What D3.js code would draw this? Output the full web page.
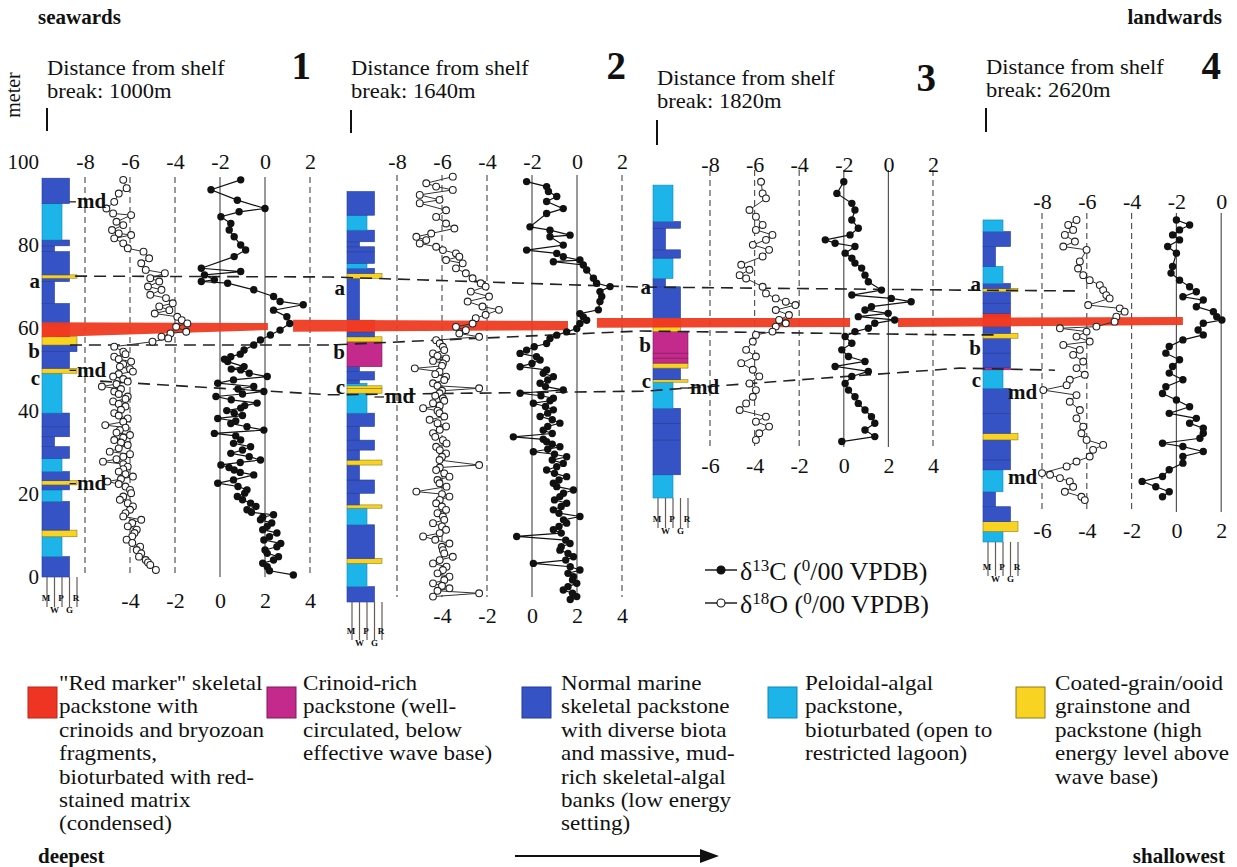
<!DOCTYPE html>
<html><head><meta charset="utf-8">
<script src="https://cdn.jsdelivr.net/npm/d3@7"></script>
<style>
body{margin:0;background:#fff}
svg{display:block}
text{font-family:"Liberation Serif","Times New Roman",serif;fill:#111}
</style></head>
<body><svg id="c" width="1237" height="867" font-family="Liberation Serif, serif"></svg>
<script>
// ---------------- DATA ----------------
const sectionNumbers = ["1","2","3","4"];
const distanceLabels = ["break: 1000m","break: 1640m","break: 1820m","break: 2620m"];
const topTicks = [[-8,-6,-4,-2,0,2],[-8,-6,-4,-2,0,2],[-8,-6,-4,-2,0,2],[-8,-6,-4,-2,0]];
const bottomTicks = [[-4,-2,0,2,4],[-4,-2,0,2,4],[-6,-4,-2,0,2,4],[-6,-4,-2,0,2]];
const meterTicks = [0,20,40,60,80,100];
const textures = ["M","W","P","G","R"];

// [meter, value] ; d18O read on the top scale, d13C read on the bottom scale
const o18_1 = [[95.7,-6.3],[93.7,-6.15],[92.4,-6.5],[90.4,-6.7],[88.8,-7.05],[87.6,-6.75],[87.2,-5.95],[85.6,-6.6],[84.8,-6.3],[83.6,-6.8],[82.8,-6.5],[82.4,-5.95],[81.6,-6.7],[80.4,-6.3],[79.2,-6.1],[78.4,-5.4],[76.8,-5.15],[75.6,-5.5],[74.0,-5.3],[73.2,-4.45],[72.0,-5.1],[71.2,-4.7],[70.0,-5.2],[69.2,-4.6],[68.0,-5.1],[67.2,-4.4],[65.95,-4.1],[65.2,-4.7],[64.3,-4.25],[63.5,-4.9],[62.7,-3.9],[61.9,-3.7],[61.1,-3.45],[60.3,-3.95],[59.1,-3.5],[58.7,-4.2],[57.9,-4.6],[57.5,-4.3],[56.7,-5.0],[55.5,-6.7],[54.3,-6.3],[53.1,-6.7],[51.9,-5.95],[50.7,-6.45],[49.5,-5.87],[48.3,-6.75],[47.1,-6.1],[45.9,-7.25],[44.7,-6.7],[43.5,-6.1],[42.3,-6.75],[41.1,-6.2],[39.5,-6.7],[38.2,-6.1],[36.6,-7.1],[35.4,-6.45],[34.2,-6.0],[33.0,-6.7],[31.8,-6.1],[30.2,-6.9],[29.0,-6.3],[27.8,-7.2],[26.6,-6.1],[25.4,-6.5],[24.2,-5.87],[23.0,-7.0],[21.8,-6.2],[20.2,-5.95],[18.6,-6.45],[17.0,-5.87],[15.4,-6.2],[13.8,-5.5],[12.2,-6.1],[10.6,-5.8],[9.0,-6.15],[7.3,-5.55],[5.7,-5.5],[4.1,-5.3],[2.9,-5.1],[1.7,-4.85],
[53.7,-6.2],[52.5,-6.5],[51.3,-6.3],[50.1,-6.0],[48.9,-6.5],[47.7,-6.3],[46.5,-6.6],[45.3,-6.4],[44.1,-6.5],[42.9,-6.2],[41.7,-6.5],[40.3,-6.4],[38.9,-6.5],[37.4,-6.3],[36.0,-6.2],[34.8,-6.6],[33.6,-6.3],[32.4,-6.4],[31.0,-6.5],[29.6,-6.0],[28.4,-6.6],[27.2,-6.3],[26.0,-6.3],[24.8,-6.2],[23.6,-6.4],[22.4,-6.5],[21.0,-6.0],[19.4,-6.3],[17.8,-6.1],[16.2,-6.0],[14.6,-6.3],[13.0,-5.9],[11.4,-5.7],[9.8,-5.9],[8.2,-5.9],[6.5,-5.7],[4.9,-5.6],[3.5,-5.2]];
const c13_1 = [[95.7,0.92],[93.3,-0.4],[90.8,0.77],[88.8,2.0],[88.0,0.85],[86.8,0.04],[85.2,0.48],[83.6,0.41],[82.0,0.63],[80.0,0.92],[78.8,1.14],[77.2,0.63],[74.4,-0.83],[73.6,0.92],[72.8,-0.69],[71.6,-0.25],[71.2,-0.83],[70.8,0.34],[69.2,1.5],[67.6,2.38],[66.4,2.67],[65.6,3.7],[64.3,2.38],[62.7,2.97],[61.1,3.1],[59.5,2.67],[58.3,2.24],[57.1,1.8],[55.9,1.5],[54.7,1.07],[53.1,0.48],[51.9,0.34],[50.7,1.07],[49.9,0.92],[48.3,2.1],[46.7,-0.1],[45.9,1.5],[44.7,1.95],[43.5,-0.18],[41.9,1.65],[40.7,0.92],[39.5,0.63],[38.2,-0.1],[37.0,0.48],[35.4,1.95],[34.6,-0.25],[33.0,0.92],[31.4,1.36],[29.8,0.48],[28.2,1.8],[27.0,0.04],[25.8,0.63],[24.6,1.5],[22.6,-0.1],[21.0,1.2],[19.4,0.77],[17.8,1.36],[16.2,1.2],[15.0,2.38],[13.8,1.8],[12.2,2.1],[10.6,2.53],[8.9,1.95],[7.3,2.53],[5.7,2.1],[4.1,2.38],[2.5,2.1],[0.5,3.26],
[53.7,0.9],[52.5,0.2],[50.1,0.5],[49.1,1.3],[47.5,0.6],[45.3,0.8],[44.1,1.0],[42.7,0.5],[41.3,1.1],[40.1,0.3],[38.9,1.0],[37.6,0.7],[36.2,1.2],[34.0,0.7],[32.2,0.6],[30.6,1.0],[29.0,1.3],[27.6,0.9],[26.4,0.4],[25.2,0.9],[23.4,0.6],[21.8,0.8],[20.2,1.1],[18.6,1.0],[17.0,1.6],[15.6,1.4],[14.4,1.9],[13.0,2.3],[11.4,1.9],[9.7,2.2],[8.1,2.7],[6.5,2.0],[4.9,2.6],[3.3,1.9],[1.5,2.2]];

const o18_2 = [[102.5,-5.52],[100.9,-6.7],[100.1,-6.26],[99.3,-5.52],[98.1,-6.99],[96.9,-6.11],[96.1,-6.99],[94.4,-5.82],[92.8,-6.26],[91.2,-5.82],[90.0,-5.45],[88.8,-6.48],[88.0,-7.14],[87.2,-6.7],[86.4,-6.99],[85.6,-6.26],[84.8,-5.96],[84.0,-5.38],[83.2,-5.23],[82.4,-5.82],[81.6,-5.08],[80.4,-5.38],[79.2,-4.94],[78.0,-4.64],[76.8,-4.28],[76.0,-4.06],[74.8,-4.72],[73.6,-3.91],[72.4,-4.86],[71.2,-4.2],[70.4,-3.47],[69.2,-4.06],[68.4,-4.5],[67.1,-4.64],[66.3,-5.38],[65.5,-4.94],[64.7,-5.23],[63.9,-4.35],[63.1,-6.26],[61.5,-5.96],[59.9,-6.4],[58.7,-5.82],[57.5,-5.96],[56.3,-7.21],[55.5,-6.11],[54.3,-5.82],[52.7,-6.4],[51.5,-4.35],[50.3,-6.11],[49.1,-5.96],[47.9,-6.4],[46.7,-6.84],[45.5,-6.11],[43.9,-6.55],[42.3,-5.82],[40.7,-6.4],[39.0,-5.96],[37.4,-6.26],[35.8,-5.82],[34.2,-6.11],[33.0,-4.35],[31.8,-6.26],[30.2,-5.67],[28.6,-6.11],[26.6,-7.14],[25.4,-5.67],[23.8,-6.26],[22.2,-5.82],[20.6,-5.96],[19.0,-6.4],[17.4,-5.82],[15.8,-6.84],[14.1,-5.67],[12.5,-5.96],[10.9,-5.52],[9.3,-6.4],[7.7,-5.96],[6.1,-5.67],[4.5,-6.4],[3.3,-5.67],[2.1,-4.35],[1.3,-6.4],
[62.3,-6.1],[60.7,-5.9],[59.3,-6.2],[58.1,-6.4],[56.9,-6.0],[54.9,-6.3],[53.5,-5.9],[52.1,-6.2],[50.9,-6.0],[49.7,-6.3],[48.5,-5.9],[47.3,-6.1],[46.1,-6.2],[44.7,-5.9],[43.1,-6.2],[41.5,-6.1],[39.8,-6.3],[38.2,-5.8],[36.6,-6.1],[35.0,-6.0],[32.4,-6.1],[31.0,-5.9],[29.4,-6.2],[27.8,-5.8],[26.0,-6.0],[24.6,-6.1],[23.0,-6.0],[21.4,-6.2],[19.8,-5.9],[18.2,-6.0],[16.6,-6.1],[15.0,-6.3],[13.3,-6.0],[11.7,-5.9],[10.1,-6.1],[8.5,-5.8],[6.9,-6.2],[5.3,-5.9],[3.9,-6.0],[2.7,-6.2]];
const c13_2 = [[101.3,-0.24],[100.1,0.65],[98.9,0.73],[97.7,1.1],[96.5,0.65],[94.8,1.39],[93.6,0.65],[90.4,-0.09],[89.6,0.8],[88.4,1.69],[88.0,0.8],[86.0,1.39],[84.8,-0.24],[84.0,1.1],[83.2,1.39],[82.4,2.13],[82.0,0.95],[81.2,2.28],[80.0,2.43],[78.0,2.73],[76.8,2.87],[76.0,3.47],[74.8,3.02],[73.6,3.1],[72.4,3.02],[70.4,2.95],[69.5,2.13],[68.7,2.28],[67.9,2.43],[67.1,2.13],[65.9,1.99],[65.1,1.54],[64.3,1.1],[63.5,0.8],[62.3,0.65],[60.7,-0.24],[59.9,-0.53],[58.3,0.36],[56.7,-0.53],[55.9,0.65],[54.3,0.95],[52.7,0.36],[51.1,1.39],[50.3,-0.53],[49.1,0.95],[47.9,0.06],[46.3,0.95],[44.7,0.36],[43.1,1.24],[41.4,0.5],[39.8,-0.83],[38.6,0.65],[37.4,1.24],[36.2,0.06],[35.0,1.54],[33.4,1.39],[31.8,0.65],[30.2,1.54],[28.6,0.95],[27.0,1.84],[25.4,1.24],[23.8,1.54],[22.2,0.95],[20.6,2.13],[19.0,1.54],[17.4,0.95],[15.8,-0.68],[14.1,1.69],[12.5,1.24],[10.9,1.84],[9.3,0.06],[7.7,2.13],[6.1,1.84],[4.5,1.99],[2.9,1.39],[1.3,1.99],
[61.5,0.1],[59.1,0.2],[57.5,0.0],[55.1,0.5],[53.5,0.7],[51.9,0.6],[49.7,0.4],[48.5,0.8],[47.1,0.6],[45.5,0.7],[43.9,0.9],[42.3,0.7],[40.6,0.9],[39.2,0.5],[38.0,0.9],[36.8,0.7],[35.6,1.0],[34.2,0.9],[32.6,1.1],[31.0,1.0],[29.4,1.2],[27.8,1.1],[26.2,1.4],[24.6,1.0],[23.0,1.3],[21.4,1.2],[19.8,1.4],[18.2,1.2],[16.6,1.3],[14.9,1.5],[13.3,1.3],[11.7,1.6],[10.1,1.5],[8.5,1.7],[6.9,1.6],[5.3,1.8],[3.7,1.6],[2.1,1.8],[0.6,1.7]];

const o18_3 = [[76.2,-5.71],[73.4,-5.64],[72.2,-5.49],[69.4,-6.23],[67.8,-5.94],[65.8,-5.64],[64.6,-5.94],[63.4,-5.2],[62.2,-5.49],[61.0,-6.08],[59.8,-5.35],[58.2,-5.64],[56.2,-6.6],[55.0,-6.23],[53.7,-6.67],[52.9,-6.38],[50.9,-5.64],[49.3,-5.49],[48.1,-5.05],[47.3,-4.6],[46.5,-4.17],[45.3,-5.05],[44.1,-4.46],[42.9,-4.9],[42.1,-4.6],[41.3,-5.05],[40.1,-5.2],[39.3,-5.94],[37.7,-6.08],[35.7,-6.38],[34.1,-5.94],[32.5,-6.6],[30.9,-6.08],[29.3,-5.79],[27.6,-6.23],[26.0,-5.94],[24.4,-6.08],[22.8,-6.38],[21.2,-6.67],[19.6,-5.49],[18.4,-5.94],[17.2,-5.35],[15.6,-5.79],[14.0,-5.94]];
const c13_3 = [[76.2,0.0],[73.4,-0.31],[71.0,0.36],[69.4,0.5],[67.0,0.36],[65.0,0.65],[63.4,0.28],[62.2,-0.83],[61.4,-0.39],[60.6,0.5],[59.0,0.06],[57.8,0.36],[56.6,0.5],[55.4,0.8],[53.7,0.95],[52.1,1.1],[50.1,1.69],[48.9,0.36],[48.1,2.13],[47.3,3.02],[46.1,1.24],[45.3,0.95],[44.5,1.99],[43.7,0.65],[42.9,2.28],[42.1,1.39],[40.9,1.1],[40.1,0.5],[38.9,0.06],[37.3,0.36],[35.7,-0.09],[34.1,0.21],[32.9,0.95],[31.7,-0.39],[30.5,1.1],[29.3,0.36],[27.6,0.06],[26.0,0.21],[24.4,0.5],[22.8,0.65],[21.2,0.95],[19.6,1.24],[18.0,1.39],[16.4,0.95],[14.8,1.39],[13.6,-0.09]];

const o18_4 = [[77.6,-6.46],[76.4,-6.83],[75.2,-6.61],[74.0,-6.98],[72.4,-6.53],[71.2,-7.05],[70.4,-6.01],[67.6,-6.31],[65.9,-6.39],[64.3,-6.16],[63.1,-5.87],[61.9,-5.42],[60.7,-5.27],[59.5,-5.13],[58.7,-4.98],[57.1,-5.94],[56.3,-4.53],[55.5,-4.31],[54.3,-4.68],[53.1,-4.76],[51.9,-5.57],[51.5,-7.2],[50.7,-6.01],[49.5,-6.46],[48.3,-5.87],[47.5,-7.05],[46.3,-6.31],[45.1,-6.61],[43.5,-6.16],[41.9,-6.46],[40.3,-6.09],[39.1,-6.76],[37.8,-6.9],[36.6,-7.94],[35.4,-6.46],[33.8,-6.76],[31.8,-6.31],[29.8,-6.46],[27.8,-6.16],[26.2,-6.24],[24.6,-6.01],[23.4,-5.27],[22.2,-5.72],[20.6,-5.87],[19.4,-6.46],[18.2,-6.9],[16.6,-8.0],[16.2,-7.64],[15.4,-7.2],[14.6,-6.76],[13.3,-6.61],[12.1,-6.98],[10.9,-6.24],[10.1,-6.09]];
const c13_4 = [[77.6,0.0],[76.4,0.59],[75.2,0.14],[74.0,-0.17],[72.8,0.14],[71.2,-0.39],[69.6,0.0],[66.4,-0.17],[64.8,-0.24],[63.1,0.14],[61.5,0.59],[60.3,0.89],[59.1,0.29],[58.3,1.2],[56.7,0.89],[55.5,1.65],[54.3,1.8],[53.5,2.03],[52.7,1.2],[51.1,0.97],[49.9,1.2],[48.7,0.29],[47.1,-0.32],[45.5,-0.47],[43.9,0.14],[42.3,-0.17],[40.7,-0.32],[39.1,0.29],[37.4,-0.47],[35.8,-0.62],[34.2,0.0],[32.6,0.59],[31.0,-0.32],[29.8,0.89],[28.6,0.59],[27.4,1.2],[26.2,1.2],[25.0,1.05],[23.8,-0.62],[23.0,0.29],[21.8,1.2],[20.6,0.29],[19.0,0.29],[17.4,-0.32],[15.8,-0.62],[14.6,-1.53],[13.3,-0.92],[12.1,-0.32],[10.9,-0.62]];

// lithology: [base m, top m, facies, texture]
const lith_1 = [[0,4.9,"N","G"],[4.9,9.7,"C","P"],[9.7,11.3,"Y","R"],[11.3,18.2,"N","G"],[18.2,21.0,"C","P"],[21.0,22.2,"N","G"],[22.2,23.2,"Y","R"],[23.2,25.4,"N","G"],[25.4,28.6,"C","P"],[28.6,31.4,"N","G"],[31.4,33.8,"N","W"],[33.8,36.2,"N","G"],[36.2,39.5,"N","G"],[39.5,49.1,"C","P"],[49.1,50.3,"Y","R"],[50.3,54.3,"N","G"],[54.3,55.9,"N","R"],[55.9,57.9,"Y","R"],[57.9,60.7,"R","G"],[60.7,65.9,"N","G"],[65.9,71.2,"N","W"],[71.2,72.0,"N","G"],[72.0,72.8,"Y","R"],[72.8,78.4,"N","G"],[78.4,79.8,"N","W"],[79.8,81.2,"N","G"],[81.2,90.0,"C","P"],[90.0,96.1,"N","G"]];
const lith_2 = [[0,3.7,"N","G"],[3.7,9.3,"C","P"],[9.3,10.5,"Y","R"],[10.5,18.6,"N","G"],[18.6,22.6,"C","P"],[22.6,23.4,"Y","R"],[23.4,26.2,"N","W"],[26.2,29.4,"N","G"],[29.4,33.0,"N","W"],[33.0,34.2,"Y","R"],[34.2,36.6,"N","W"],[36.6,39.0,"N","G"],[39.0,42.3,"N","W"],[42.3,45.5,"N","G"],[45.5,50.3,"C","P"],[50.3,51.5,"Y","R"],[51.5,52.1,"Y","R"],[52.1,52.7,"C","P"],[52.7,53.5,"N","W"],[53.5,55.5,"N","G"],[55.5,56.7,"N","W"],[56.7,62.7,"M","R"],[62.7,63.9,"Y","R"],[63.9,65.1,"N","G"],[65.1,67.9,"R","G"],[67.9,78.0,"N","W"],[78.0,79.2,"Y","R"],[79.2,80.4,"N","G"],[80.4,81.6,"C","P"],[81.6,84.4,"N","G"],[84.4,85.6,"N","G"],[85.6,86.8,"N","W"],[86.8,89.6,"N","G"],[89.6,93.2,"C","P"],[93.2,98.9,"N","G"]];
const lith_3 = [[0,5.6,"C","P"],[5.6,14.0,"N","G"],[14.0,18.0,"N","G"],[18.0,21.6,"N","G"],[21.6,27.9,"C","P"],[27.9,28.5,"Y","R"],[28.5,31.3,"N","G"],[31.3,32.5,"Y","R"],[32.5,33.7,"M","R"],[33.7,34.9,"M","R"],[34.9,40.1,"M","R"],[40.1,41.3,"Y","G"],[41.3,43.3,"R","G"],[43.3,50.9,"N","G"],[50.9,52.9,"N","W"],[52.9,57.8,"C","P"],[57.8,59.8,"N","G"],[59.8,65.0,"N","W"],[65.0,66.6,"N","G"],[66.6,75.4,"C","P"]];
const lith_4 = [[0,2.5,"C","P"],[2.5,4.9,"Y","R"],[4.9,8.5,"N","G"],[8.5,12.1,"N","W"],[12.1,17.4,"C","P"],[17.4,19.8,"N","G"],[19.8,24.6,"N","G"],[24.6,26.2,"Y","R"],[26.2,31.0,"N","G"],[31.0,37.0,"N","G"],[37.0,41.5,"C","P"],[41.5,42.0,"M","G"],[42.0,45.5,"N","G"],[45.5,49.1,"N","G"],[49.1,50.3,"Y","R"],[50.3,51.9,"N","G"],[51.9,55.1,"R","G"],[55.1,57.5,"N","G"],[57.5,60.3,"N","G"],[60.3,61.1,"Y","R"],[61.1,62.3,"N","G"],[62.3,66.4,"C","P"],[66.4,71.2,"N","W"],[71.2,74.8,"N","G"],[74.8,77.6,"C","P"]];

// correlation lines: [section, top-scale value, meter]
const corrA = [[0,-8.44,72.5],[0,2.89,72.3],[1,2.8,75.9],[2,3.2,50.1],[3,-6.5,60.5]];
const corrB = [[0,-8.67,55.9],[0,2.89,55.9],[1,2.8,65.3],[2,3.2,39.3],[3,-9.9,49.9]];
const corrC = [[0,-7.33,47.2],[0,2.89,43.9],[1,3.02,50.8],[2,3.2,31.3],[3,-7.42,41.4]];
const corrLetters = [[0,"a",71.3],[0,"b",54.3],[0,"c",48.0],[1,"a",75.7],[1,"b",60.2],[1,"c",51.8],[2,"a",50.8],[2,"b",36.9],[2,"c",28.2],[3,"a",62.2],[3,"b",46.7],[3,"c",39.0]];
// red marker bed: [section, x from, x to, top m (from,to), base m (from,to)]
const redBand = [[0,-9.91,0.13,61.4,61.2,57.8,59.5],[1,-12.62,-0.4,68.0,67.7,65.1,65.5],[2,-13.07,-1.72,43.4,43.4,41.0,41.2],[3,-14.43,-1.71,54.0,54.2,51.8,52.3]];
const mdMarks = [[0,90.4],[0,49.8],[0,22.5],[1,49.4],[2,26.5],[3,35.9],[3,15.6]];

const legendFacies = ["R","M","N","C","Y"];
const legendTexts = [
 ["\"Red marker\" skeletal","packstone with","crinoids and bryozoan","fragments,","bioturbated with red-","stained matrix","(condensed)"],
 ["Crinoid-rich","packstone (well-","circulated, below","effective wave base)"],
 ["Normal marine","skeletal packstone","with diverse biota","and massive, mud-","rich skeletal-algal","banks (low energy","setting)"],
 ["Peloidal-algal","packstone,","bioturbated (open to","restricted lagoon)"],
 ["Coated-grain/ooid","grainstone and","packstone (high","energy level above","wave base)"]
];
const isoLegend = [["13","C",true],["18","O",false]];

// ---------------- LAYOUT / STYLE ----------------
const series = [[o18_1,c13_1,lith_1],[o18_2,c13_2,lith_2],[o18_3,c13_3,lith_3],[o18_4,c13_4,lith_4]];
const L = [
 {col:42, x0:85, x1:310, y0:577, gTop:177, gBot:577, topAx:169, botAx:592, tx:47, ty:75, nx:311, ny:79, vt:[108,131], md:35, texDy:0},
 {col:347, x0:397, x1:622, y0:602, gTop:175, gBot:597, topAx:169, botAx:607, tx:351, ty:75, nx:626, ny:79, vt:[110,133], md:38, texDy:8},
 {col:653, x0:710, x1:933, y0:498, gTop:170, gBot:447, topAx:172, botAx:457, tx:657, ty:85, nx:936, ny:91, vt:[120,145], md:37, texDy:0},
 {col:983, x0:1042, x1:1266, y0:542, gTop:213, gBot:512, topAx:209, botAx:522, tx:986, ty:74, nx:1221, ny:79, vt:[108,132], md:25, texDy:4}
];
const faciesFill = {N:"#3553c4", C:"#1db4ea", Y:"#f8d321", M:"#c32a8c", R:"#ee3524"};
const faciesStroke = {N:"#243a9c", C:"#1288b5", Y:"#8c7b22", M:"#7e1a5c", R:"#b82616"};
const texScale = d3.scalePoint().domain(textures).range([5,35]);
const SERIF = "Liberation Serif, Times New Roman, serif";

const svg = d3.select("#c");
const X = [], Y = [], XB = [];
L.forEach((l,i)=>{
  X[i] = d3.scaleLinear().domain([-8,2]).range([l.x0,l.x1]);
  XB[i] = d3.scaleLinear().domain([-6,4]).range([l.x0,l.x1]);
  Y[i] = d3.scaleLinear().domain([0,100]).range([l.y0,l.y0-415]);
});

const gGrid = svg.append("g"), gCol = svg.append("g"), gBand = svg.append("g"),
      gCorr = svg.append("g"), gData = svg.append("g"), gText = svg.append("g");

// stretched text helper (wide Times-like lettering of the original)
function wideText(g, x, y, size, sx, str){
  return g.append("text").attr("transform",`translate(${x},${y}) scale(${sx},1)`).attr("font-size",size).text(str);
}

// headers
svg.append("text").attr("x",38).attr("y",24).attr("font-size",21).attr("font-weight","bold").text("seawards");
svg.append("text").attr("x",1222).attr("y",24).attr("font-size",21).attr("font-weight","bold").attr("text-anchor","end").text("landwards");
svg.append("text").attr("transform","translate(20,95) rotate(-90)").attr("font-size",20).attr("text-anchor","middle").text("meter");

L.forEach((l,i)=>{
  const x = X[i], xb = XB[i], y = Y[i];
  // titles
  wideText(gText, l.tx, l.ty, 20.5, 1.1, "Distance from shelf");
  wideText(gText, l.tx, l.ty+23, 20.5, 1.1, distanceLabels[i]);
  gText.append("text").attr("x",l.nx).attr("y",l.ny).attr("font-size",39).attr("font-weight","bold").attr("text-anchor","end").text(sectionNumbers[i]);
  gText.append("line").attr("x1",l.tx).attr("x2",l.tx).attr("y1",l.vt[0]).attr("y2",l.vt[1]).attr("stroke","#111").attr("stroke-width",2);

  // grid lines
  topTicks[i].forEach(t=>{
    const solid = (t===-2||t===0);
    gGrid.append("line").attr("x1",x(t)).attr("x2",x(t)).attr("y1",l.gTop).attr("y2",l.gBot)
      .attr("stroke","#555").attr("stroke-width",1.2).attr("stroke-dasharray",solid?null:"6,4");
  });
  // axes
  const at = gText.append("g").attr("transform",`translate(0,${l.topAx})`)
    .call(d3.axisTop(x).tickValues(topTicks[i]).tickSize(0).tickPadding(0).tickFormat(d=>String(d)));
  const ab = gText.append("g").attr("transform",`translate(0,${l.botAx})`)
    .call(d3.axisBottom(xb).tickValues(bottomTicks[i]).tickSize(0).tickPadding(0).tickFormat(d=>String(d)));
  [at,ab].forEach(a=>{a.attr("font-family",SERIF); a.select(".domain").remove(); a.selectAll("text").attr("font-size",22).attr("fill","#111");});
  if(i===0){
    const am = gText.append("g").attr("transform",`translate(39,0)`)
      .call(d3.axisLeft(y).tickValues(meterTicks).tickSize(0).tickPadding(0));
    am.attr("font-family",SERIF);
    am.select(".domain").remove();
    am.selectAll("text").attr("font-size",21).attr("fill","#111");
  }

  // lithology column
  const lith = series[i][2];
  gCol.selectAll(null).data(lith).enter().append("rect")
    .attr("x",l.col).attr("y",d=>y(d[1])).attr("width",d=>texScale(d[3]))
    .attr("height",d=>y(d[0])-y(d[1]))
    .attr("fill",d=>faciesFill[d[2]]).attr("stroke",d=>faciesStroke[d[2]]).attr("stroke-width",0.6);
  // texture ticks
  textures.forEach(t=>{
    gCol.append("line").attr("x1",l.col+texScale(t)).attr("x2",l.col+texScale(t))
      .attr("y1",l.y0).attr("y2",l.y0+30+l.texDy).attr("stroke","#6a5a55").attr("stroke-width",1.2);
  });
  [["M",24],["P",24],["R",24],["W",36],["G",36]].forEach(([t,dy])=>{
    gText.append("text").attr("x",l.col+texScale(t)+(dy===24?-1:0)).attr("y",l.y0+dy+l.texDy).attr("font-size",9)
      .attr("font-weight","bold").attr("text-anchor","middle").attr("fill","#4a3a3a").text(t);
  });

  // data
  const o18 = series[i][0].slice().sort((a,b)=>b[0]-a[0]);
  const c13 = series[i][1].slice().sort((a,b)=>b[0]-a[0]);
  const lo = d3.line().x(d=>x(d[1])).y(d=>y(d[0]));
  const lc = d3.line().x(d=>xb(d[1])).y(d=>y(d[0]));
  gData.append("path").attr("d",lo(o18)).attr("fill","none").attr("stroke","#333").attr("stroke-width",1);
  gData.append("path").attr("d",lc(c13)).attr("fill","none").attr("stroke","#111").attr("stroke-width",1.2);
  gData.selectAll(null).data(o18).enter().append("circle")
    .attr("cx",d=>x(d[1])).attr("cy",d=>y(d[0])).attr("r",3.4)
    .attr("fill","#fff").attr("stroke","#222").attr("stroke-width",1.1);
  gData.selectAll(null).data(c13).enter().append("circle")
    .attr("cx",d=>xb(d[1])).attr("cy",d=>y(d[0])).attr("r",3.7).attr("fill","#111");
});

// red marker band
redBand.forEach(b=>{
  const s=b[0], x=X[s], y=Y[s];
  const pts=[[x(b[1]),y(b[3])],[x(b[2]),y(b[4])],[x(b[2]),y(b[6])],[x(b[1]),y(b[5])]];
  gBand.append("path").attr("d",d3.line()(pts)+"Z").attr("fill","#ef3b22").attr("opacity",0.95);
});

// correlation lines
[corrA,corrB,corrC].forEach(c=>{
  const pts = c.map(p=>[X[p[0]](p[1]),Y[p[0]](p[2])]);
  gCorr.append("path").attr("d",d3.line()(pts)).attr("fill","none").attr("stroke","#222")
    .attr("stroke-width",1.6).attr("stroke-dasharray","12,7");
});
corrLetters.forEach(([s,t,m])=>{
  gText.append("text").attr("x",L[s].col-2).attr("y",Y[s](m)).attr("dy","0.32em")
    .attr("text-anchor","end").attr("font-size",21).attr("font-weight","bold").text(t);
});
mdMarks.forEach(([s,m])=>{
  const l=L[s], yy=Y[s](m);
  if(l.md>texScale("G")+2) gText.append("line").attr("x1",l.col+texScale("G")).attr("x2",l.col+l.md-1)
    .attr("y1",yy).attr("y2",yy).attr("stroke","#222").attr("stroke-width",1.3);
  gText.append("text").attr("x",l.col+l.md).attr("y",yy).attr("dy","0.3em").attr("font-size",21)
    .attr("font-weight","bold").text("md");
});

// isotope legend
isoLegend.forEach(([sup,el,filled],k)=>{
  const yy = 570 + k*33;
  svg.append("line").attr("x1",705).attr("x2",737).attr("y1",yy).attr("y2",yy).attr("stroke","#111").attr("stroke-width",1.4);
  svg.append("circle").attr("cx",721).attr("cy",yy).attr("r",4).attr("fill",filled?"#111":"#fff").attr("stroke","#111").attr("stroke-width",1.1);
  const t = svg.append("text").attr("x",740).attr("y",yy+10).attr("font-size",26);
  t.append("tspan").text("δ");
  t.append("tspan").attr("dy",-9).attr("font-size",17).text(sup);
  t.append("tspan").attr("dy",9).text(el+" (");
  t.append("tspan").attr("dy",-9).attr("font-size",17).text("0");
  t.append("tspan").attr("dy",9).text("/00 VPDB)");
});

// facies legend
const boxX=[28,267,522,768,1016], textX=[59,303,561,805,1055];
legendFacies.forEach((f,k)=>{
  svg.append("rect").attr("x",boxX[k]).attr("y",687).attr("width",29).attr("height",31)
    .attr("fill",faciesFill[f]).attr("stroke",faciesStroke[f]).attr("stroke-width",1);
  legendTexts[k].forEach((line,j)=>{
    wideText(svg, textX[k], 690+j*23.4, 21, 1.1, line);
  });
});

// bottom
svg.append("text").attr("x",38).attr("y",863).attr("font-size",21).attr("font-weight","bold").text("deepest");
svg.append("text").attr("x",1225).attr("y",863).attr("font-size",21).attr("font-weight","bold").attr("text-anchor","end").text("shallowest");
svg.append("line").attr("x1",515).attr("x2",704).attr("y1",856).attr("y2",856).attr("stroke","#111").attr("stroke-width",2);
svg.append("path").attr("d",d3.line()([[700,849],[719,856],[700,863]])+"Z").attr("fill","#111");
</script></body></html>
